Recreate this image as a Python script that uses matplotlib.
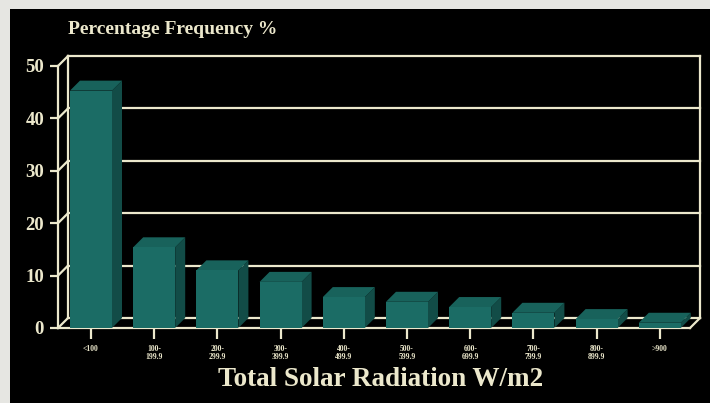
import matplotlib
matplotlib.use("Agg")
import matplotlib.pyplot as plt
from matplotlib.patches import Rectangle, Polygon
from matplotlib.lines import Line2D

categories = ["<100", "100-\n199.9", "200-\n299.9", "300-\n399.9", "400-\n499.9",
              "500-\n599.9", "600-\n699.9", "700-\n799.9", "800-\n899.9", ">900"]
values = [45.3, 15.4, 11.0, 8.8, 5.9, 5.0, 4.0, 2.9, 1.7, 1.0]
yticks = [0, 10, 20, 30, 40, 50]
title = "Percentage Frequency %"
xlabel = "Total Solar Radiation W/m2"

W_PX, H_PX = 710, 403
fig = plt.figure(figsize=(W_PX / 100, H_PX / 100), dpi=100)
fig.patch.set_facecolor("#e6e6e2")

# black panel
fig.patches.append(Rectangle((10 / W_PX, 0), 1, (H_PX - 9) / H_PX,
                             transform=fig.transFigure, facecolor="black",
                             edgecolor="none", zorder=-10))

CREAM = "#ece8cc"
FRONT = "#1b6c65"
TOP = "#18625b"
SIDE = "#124c47"
SERIF = ["Liberation Serif", "DejaVu Serif"]

left, right, bottom, top = 58, 690, 328, 66
ax = fig.add_axes([left / W_PX, (H_PX - bottom) / H_PX,
                   (right - left) / W_PX, (bottom - top) / H_PX])
ax.set_zorder(5)
ax.set_facecolor("none")
xmin, xmax = -0.522, 9.478
ax.set_xlim(xmin, xmax)
ax.set_ylim(0, 50)

# depth offset (data units)
DX = (xmax - xmin) * 10 / (right - left)
DY = 50 * 10 / (bottom - top)
BW = 0.665

lw = 1.6
# back wall grid lines and frame
for v in yticks:
    ax.add_line(Line2D([xmin + DX, xmax + DX], [v + DY, v + DY], color=CREAM,
                       lw=lw, zorder=1, clip_on=False))
    ax.add_line(Line2D([xmin, xmin + DX], [v, v + DY], color=CREAM,
                       lw=lw, zorder=1, clip_on=False))
ax.add_line(Line2D([xmin + DX, xmin + DX], [DY, 50 + DY], color=CREAM,
                   lw=lw, zorder=1, clip_on=False))
ax.add_line(Line2D([xmax + DX, xmax + DX], [DY, 50 + DY], color=CREAM,
                   lw=lw, zorder=1, clip_on=False))
ax.add_line(Line2D([xmax, xmax + DX], [0, DY], color=CREAM,
                   lw=lw, zorder=1, clip_on=False))

# bars
xs = list(range(len(values)))
ax.bar(xs, values, width=BW, color=FRONT, linewidth=0, zorder=4, clip_on=False)
for x, v in zip(xs, values):
    r = x + BW / 2
    l = x - BW / 2
    ax.add_patch(Polygon([(r, 0), (r + DX, DY), (r + DX, v + DY), (r, v)],
                         closed=True, facecolor=SIDE, edgecolor="none",
                         zorder=3, clip_on=False))
    ax.add_patch(Polygon([(l, v), (r, v), (r + DX, v + DY), (l + DX, v + DY)],
                         closed=True, facecolor=TOP, edgecolor="none",
                         zorder=3, clip_on=False))

# front axes
for s in ["top", "right"]:
    ax.spines[s].set_visible(False)
for s in ["left", "bottom"]:
    ax.spines[s].set_color(CREAM)
    ax.spines[s].set_linewidth(lw)
    ax.spines[s].set_zorder(2)

ax.set_yticks(yticks)
ax.set_yticklabels([str(v) for v in yticks], family=SERIF, fontweight="bold",
                   fontsize=13.5, color=CREAM)
ax.tick_params(axis="y", direction="out", length=6, width=lw, color=CREAM, pad=4)
ax.set_xticks(xs)
ax.set_xticklabels(categories, family=SERIF, fontweight="bold", fontsize=5.5,
                   color=CREAM, linespacing=1.0)
ax.tick_params(axis="x", direction="out", length=8, width=lw, color=CREAM, pad=4)

fig.text(68 / W_PX, (H_PX - 30) / H_PX, title, family=SERIF, fontweight="bold",
         fontsize=14, color=CREAM, ha="left", va="center")
fig.text(381 / W_PX, (H_PX - 379) / H_PX, xlabel, family=SERIF, fontweight="bold",
         fontsize=19.5, color=CREAM, ha="center", va="center")

fig.savefig("out.png", dpi=100, facecolor=fig.get_facecolor())
